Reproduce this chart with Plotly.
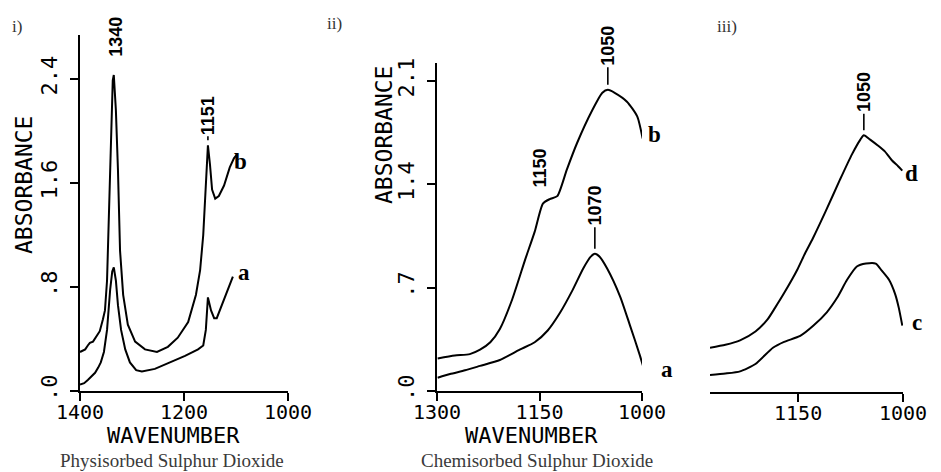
import plotly.graph_objects as go

W, H = 941, 472

# ---------------- Panel i (physisorbed) ----------------
wn_i_b = [1400, 1390, 1385, 1381, 1375, 1369, 1365, 1362, 1356, 1352, 1348, 1344, 1340, 1337, 1335,
          1331, 1327, 1323, 1317, 1308, 1294, 1275, 1252, 1231, 1212, 1192, 1177, 1169, 1163, 1160,
          1156, 1154, 1150, 1146, 1140, 1133, 1123, 1112, 1104, 1098]
abs_i_b = [0.30, 0.32, 0.35, 0.37, 0.38, 0.42, 0.44, 0.46, 0.55, 0.62, 0.85, 1.47, 2.00, 2.39, 2.43,
           2.16, 1.70, 1.08, 0.74, 0.51, 0.38, 0.32, 0.30, 0.34, 0.41, 0.53, 0.74, 0.93, 1.20, 1.47,
           1.78, 1.89, 1.74, 1.55, 1.48, 1.50, 1.58, 1.72, 1.79, 1.82]

wn_i_a = [1400, 1392, 1385, 1377, 1371, 1365, 1360, 1354, 1348, 1342, 1338, 1335, 1331, 1327, 1321,
          1313, 1304, 1292, 1281, 1256, 1227, 1198, 1173, 1163, 1158, 1154, 1148, 1142, 1137, 1127,
          1115, 1106]
abs_i_a = [0.05, 0.06, 0.085, 0.115, 0.14, 0.18, 0.22, 0.30, 0.47, 0.78, 0.92, 0.95, 0.85, 0.66, 0.47,
           0.32, 0.22, 0.16, 0.15, 0.17, 0.22, 0.27, 0.32, 0.35, 0.47, 0.72, 0.62, 0.56, 0.56, 0.66,
           0.78, 0.88]

# ---------------- Panel ii (chemisorbed) ----------------
wn_ii_b = [1299, 1274, 1252, 1237, 1222, 1208, 1190, 1171, 1157, 1145, 1135, 1124, 1110, 1095,
           1073, 1058, 1050, 1040, 1022, 1007, 999]
abs_ii_b = [0.22, 0.24, 0.25, 0.28, 0.33, 0.42, 0.62, 0.89, 1.08, 1.27, 1.30, 1.32, 1.50, 1.68,
            1.90, 2.02, 2.04, 2.02, 1.96, 1.86, 1.71]

wn_ii_a = [1299, 1281, 1259, 1237, 1208, 1179, 1157, 1138, 1120, 1102, 1086, 1075, 1069, 1062,
           1051, 1032, 1018, 1003, 996]
abs_ii_a = [0.09, 0.115, 0.14, 0.17, 0.21, 0.28, 0.33, 0.41, 0.53, 0.68, 0.83, 0.91, 0.93, 0.91,
            0.83, 0.64, 0.45, 0.24, 0.13]

# ---------------- Panel iii ----------------
wn_iii_d = [1276, 1254, 1233, 1211, 1194, 1183, 1170, 1151, 1140, 1129, 1111, 1090, 1073, 1061,
            1056, 1047, 1036, 1026, 1016, 1007, 1001]
abs_iii_d = [0.30, 0.32, 0.35, 0.41, 0.49, 0.57, 0.67, 0.83, 0.94, 1.04, 1.22, 1.44, 1.61, 1.71,
             1.74, 1.71, 1.67, 1.63, 1.57, 1.53, 1.50]

wn_iii_c = [1276, 1254, 1233, 1211, 1186, 1170, 1147, 1128, 1109, 1094, 1080, 1066, 1053, 1039,
            1030, 1020, 1011, 1006, 1001]
abs_iii_c = [0.115, 0.125, 0.14, 0.19, 0.30, 0.34, 0.38, 0.45, 0.54, 0.64, 0.76, 0.85, 0.87, 0.87,
             0.82, 0.76, 0.66, 0.57, 0.45]

# tick labels
ticks_i_x = [1400, 1200, 1000]
ticktext_i_x = ["1400", "1200", "1000"]
ticks_i_y = [0, 0.8, 1.6, 2.4]
ticktext_i_y = [".0", ".8", "1.6", "2.4"]
ticks_ii_x = [1300, 1150, 1000]
ticktext_ii_x = ["1300", "1150", "1000"]
ticks_ii_y = [0, 0.7, 1.4, 2.1]
ticktext_ii_y = [".0", ".7", "1.4", "2.1"]
ticks_iii_x = [1150, 1000]
ticktext_iii_x = ["1150", "1000"]

PLOT_FONT = "DejaVu Sans Mono"
SERIF = "Liberation Serif"
SANS_B = "Liberation Sans"

fig = go.Figure()
for x, y, xa, ya, shape in [
    (wn_i_b, abs_i_b, "x", "y", "linear"),
    (wn_i_a, abs_i_a, "x", "y", "linear"),
    (wn_ii_b, abs_ii_b, "x2", "y2", "spline"),
    (wn_ii_a, abs_ii_a, "x2", "y2", "spline"),
    (wn_iii_d, abs_iii_d, "x3", "y3", "spline"),
    (wn_iii_c, abs_iii_c, "x3", "y3", "spline"),
]:
    fig.add_trace(go.Scatter(x=x, y=y, xaxis=xa, yaxis=ya, mode="lines",
                             line=dict(color="black", width=2, shape=shape, smoothing=0.6),
                             cliponaxis=False, hoverinfo="skip"))

ax_common = dict(showline=True, linecolor="black", linewidth=2, ticks="outside", ticklen=8,
                 tickwidth=2, tickcolor="black", showgrid=False, zeroline=False, automargin=False,
                 tickfont=dict(family=PLOT_FONT, size=20, color="black"))
x_common = dict(ax_common, ticklabelstandoff=-6)


def fx(p):
    return p / W


def fy(p):
    return 1 - p / H


fig.update_layout(
    width=W, height=H, margin=dict(l=0, r=0, t=0, b=0, pad=0, autoexpand=False),
    paper_bgcolor="white", plot_bgcolor="white", showlegend=False,
    xaxis=dict(x_common, domain=[fx(80), fx(288)], range=[1400, 1000], anchor="y",
               tickvals=ticks_i_x, ticktext=ticktext_i_x),
    yaxis=dict(ax_common, domain=[fy(391), fy(35)], range=[0, 2.738], anchor="x",
               tickvals=ticks_i_y, ticktext=ticktext_i_y, tickangle=-90, ticklabelstandoff=4,
               tickfont=dict(family=PLOT_FONT, size=22, color="black")),
    xaxis2=dict(x_common, domain=[fx(437), fx(642)], range=[1300, 1000], anchor="y2",
                tickvals=ticks_ii_x, ticktext=ticktext_ii_x),
    yaxis2=dict(ax_common, domain=[fy(391), fy(63)], range=[0, 2.222], anchor="x2",
                tickvals=ticks_ii_y, ticktext=ticktext_ii_y, tickangle=-90, ticklabelstandoff=4,
                tickfont=dict(family=PLOT_FONT, size=22, color="black")),
    xaxis3=dict(x_common, domain=[fx(710), fx(903)], range=[1276, 1000], anchor="y3",
                tickvals=ticks_iii_x, ticktext=ticktext_iii_x),
    yaxis3=dict(domain=[fy(392), fy(63)], range=[0, 2.229], anchor="x3", visible=False),
)

ann = []


def paper_text(text, x, y, font, angle=0):
    ann.append(dict(text=text, x=fx(x), y=fy(y), xref="paper", yref="paper", showarrow=False,
                    xanchor="center", yanchor="middle", textangle=angle, font=font))


axis_title_font = dict(family=PLOT_FONT, size=22, color="black")
paper_text("WAVENUMBER", 173, 435, axis_title_font)
paper_text("WAVENUMBER", 531, 435, axis_title_font)
paper_text("ABSORBANCE", 24, 185, dict(axis_title_font, size=23), -90)
paper_text("ABSORBANCE", 384, 135, dict(axis_title_font, size=23), -90)

panel_font = dict(family=SERIF, size=17, color="#333333")
paper_text("i)", 17, 27, panel_font)
paper_text("ii)", 334, 24, panel_font)
paper_text("iii)", 727, 27, panel_font)

cap_font = dict(family=SERIF, size=19, color="#3a3a3a")
paper_text("Physisorbed Sulphur Dioxide", 172, 460, cap_font)
paper_text("Chemisorbed Sulphur Dioxide", 537, 460, cap_font)

lab_font = dict(family=SERIF, size=23, color="black")
paper_text("<b>b</b>", 240, 161, lab_font)
paper_text("<b>a</b>", 244, 272, lab_font)
paper_text("<b>b</b>", 654, 134, lab_font)
paper_text("<b>a</b>", 667, 369, lab_font)
paper_text("<b>d</b>", 911, 173, lab_font)
paper_text("<b>c</b>", 917, 322, lab_font)

peak_font = dict(family=SANS_B, size=18, color="black")


def peak(text, x, y, xr, yr, dy, arrow, dx=0):
    d = dict(text="<b>%s</b>" % text, x=x, y=y, xref=xr, yref=yr, textangle=-90, font=peak_font)
    if arrow:
        d.update(showarrow=True, arrowhead=0, arrowwidth=1.6, arrowcolor="black", ax=dx, ay=-dy,
                 standoff=5)
    else:
        d.update(showarrow=False, yshift=dy, xshift=dx)
    ann.append(d)


peak("1340", 1335, 2.43, "x", "y", 38, False, 2)
peak("1151", 1154, 1.89, "x", "y", 30, True)
peak("1050", 1050, 2.04, "x2", "y2", 44, True)
peak("1150", 1145, 1.27, "x2", "y2", 36, False, -3)
peak("1070", 1069, 0.93, "x2", "y2", 48, True)
peak("1050", 1056, 1.74, "x3", "y3", 43, True)

fig.update_layout(annotations=ann)
fig.write_html("out.html")
